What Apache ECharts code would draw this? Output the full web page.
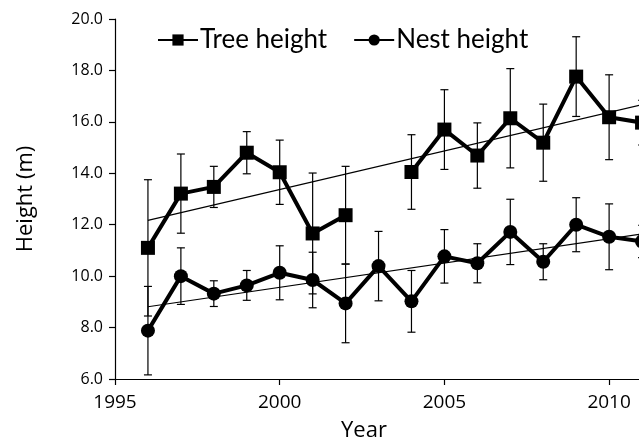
<!DOCTYPE html>
<html lang="en">
<head>
  <meta charset="UTF-8">
  <title>Tree and nest height</title>
  <style>
    html, body, #chart {
      margin: 0;
      padding: 0;
      width: 639px;
      height: 441px;
      background: #fff;
    }
  </style>
</head>
<body>
<div id="chart"></div>

<script src="https://cdn.jsdelivr.net/npm/echarts@6/dist/echarts.min.js"></script>
<script>
  // survey years
  var years = [1996, 1997, 1998, 1999, 2000, 2001, 2002, 2003, 2004, 2005, 2006, 2007, 2008, 2009, 2010, 2011];
  // mean tree height (m), no data in 2003
  var treeHeight = [11.1, 13.21, 13.47, 14.8, 14.04, 11.66, 12.37, null, 14.05, 15.7, 14.69, 16.14, 15.19, 17.76, 16.18, 15.97];
  var treeErr = [2.65, 1.54, 0.8, 0.82, 1.25, 2.35, 1.9, null, 1.45, 1.55, 1.27, 1.93, 1.5, 1.55, 1.65, 0.87];
  // mean nest height (m)
  var nestHeight = [7.88, 10.0, 9.32, 9.64, 10.13, 9.85, 8.94, 10.39, 9.02, 10.77, 10.5, 11.72, 10.56, 12.0, 11.53, 11.35];
  var nestErr = [1.72, 1.1, 0.5, 0.58, 1.05, 1.08, 1.53, 1.35, 1.2, 1.04, 0.76, 1.27, 0.7, 1.05, 1.28, 0.63];
  // linear trend end points [year, height]
  var treeTrend = [[1996, 12.17], [2012, 16.97]];
  var nestTrend = [[1996, 8.81], [2012, 11.83]];

  var font = 'Open Sans';

  function pairs(vals) {
    return years.map(function (y, i) {
      return vals[i] == null ? [y, '-'] : [y, vals[i]];
    });
  }

  function errData(vals, errs) {
    var out = [];
    years.forEach(function (y, i) {
      if (vals[i] != null) out.push([y, vals[i] - errs[i], vals[i] + errs[i]]);
    });
    return out;
  }

  function renderErr(params, api) {
    var lo = api.coord([api.value(0), api.value(1)]);
    var hi = api.coord([api.value(0), api.value(2)]);
    var cap = 4;
    var style = {stroke: '#000', lineWidth: 1.2};
    return {
      type: 'group',
      children: [
        {type: 'line', shape: {x1: lo[0], y1: lo[1], x2: hi[0], y2: hi[1]}, style: style},
        {type: 'line', shape: {x1: lo[0] - cap, y1: lo[1], x2: lo[0] + cap, y2: lo[1]}, style: style},
        {type: 'line', shape: {x1: hi[0] - cap, y1: hi[1], x2: hi[0] + cap, y2: hi[1]}, style: style}
      ]
    };
  }

  var chart = echarts.init(document.getElementById('chart'));

  chart.setOption({
    animation: false,
    backgroundColor: '#fff',
    grid: {left: 115, top: 19, right: -36, bottom: 62, containLabel: false, outerBoundsMode: 'none'},
    legend: {
      top: 22,
      left: 152,
      itemWidth: 40,
      itemHeight: 14,
      itemGap: 26,
      data: ['Tree height', 'Nest height'],
      textStyle: {fontFamily: 'Lato', fontSize: 26, color: '#000', padding: [0, 0, 0, -3]}
    },
    xAxis: {
      type: 'value',
      min: 1995,
      max: 2012,
      interval: 5,
      name: 'Year',
      nameLocation: 'middle',
      nameGap: 41,
      nameTextStyle: {fontFamily: font, fontSize: 22, color: '#000', padding: [0, 62, 0, 0]},
      axisLine: {onZero: false, lineStyle: {color: '#000', width: 1.2}},
      axisTick: {inside: false, length: 6, lineStyle: {color: '#000', width: 1.2}},
      axisLabel: {
        fontFamily: font, fontSize: 19, color: '#000', margin: 14,
        formatter: function (v) { return v % 5 === 0 ? String(v) : ''; }
      },
      splitLine: {show: false}
    },
    yAxis: {
      type: 'value',
      min: 6,
      max: 20,
      interval: 2,
      name: 'Height (m)',
      nameLocation: 'middle',
      nameGap: 78,
      nameTextStyle: {fontFamily: font, fontSize: 22, color: '#000'},
      axisLine: {show: true, lineStyle: {color: '#000', width: 1.2}},
      axisTick: {show: true, inside: false, length: 6, lineStyle: {color: '#000', width: 1.2}},
      axisLabel: {
        fontFamily: font, fontSize: 16, color: '#000', margin: 12,
        formatter: function (v) { return v.toFixed(1); }
      },
      splitLine: {show: false}
    },
    series: [
      {
        name: 'treeErr', type: 'custom', renderItem: renderErr,
        data: errData(treeHeight, treeErr), z: 2, silent: true
      },
      {
        name: 'nestErr', type: 'custom', renderItem: renderErr,
        data: errData(nestHeight, nestErr), z: 2, silent: true
      },
      {
        name: 'treeTrend', type: 'line', data: treeTrend, symbol: 'none',
        lineStyle: {color: '#000', width: 1.2}, z: 3, silent: true
      },
      {
        name: 'nestTrend', type: 'line', data: nestTrend, symbol: 'none',
        lineStyle: {color: '#000', width: 1.2}, z: 3, silent: true
      },
      {
        name: 'Tree height', type: 'line', data: pairs(treeHeight),
        connectNulls: false,
        symbol: 'rect', symbolSize: 14,
        itemStyle: {color: '#000'},
        lineStyle: {color: '#000', width: 4},
        z: 5
      },
      {
        name: 'Nest height', type: 'line', data: pairs(nestHeight),
        symbol: 'circle', symbolSize: 14,
        itemStyle: {color: '#000'},
        lineStyle: {color: '#000', width: 4},
        z: 5
      }
    ]
  });
</script>
</body>
</html>
